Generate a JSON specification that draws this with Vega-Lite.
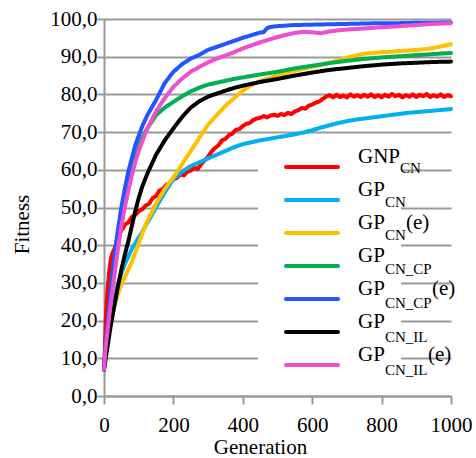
{
 "$schema": "https://vega.github.io/schema/vega-lite/v6.json",
 "width": 347, "height": 377,
 "autosize": "none",
 "padding": {"left": 104, "top": 19, "right": 25, "bottom": 62},
 "background": "white",
 "config": {"font": "Liberation Serif", "view": {"stroke": null}},
 "data": {"values": [
  {"gen":0,"series":"GNP_CN","fitness":7},{"gen":3,"series":"GNP_CN","fitness":14},{"gen":5,"series":"GNP_CN","fitness":20},{"gen":8,"series":"GNP_CN","fitness":25},{"gen":10,"series":"GNP_CN","fitness":28},{"gen":13,"series":"GNP_CN","fitness":31},{"gen":15,"series":"GNP_CN","fitness":33},{"gen":18,"series":"GNP_CN","fitness":35},{"gen":20,"series":"GNP_CN","fitness":36.5},{"gen":25,"series":"GNP_CN","fitness":38},{"gen":30,"series":"GNP_CN","fitness":39},{"gen":35,"series":"GNP_CN","fitness":40.5},{"gen":40,"series":"GNP_CN","fitness":42},{"gen":45,"series":"GNP_CN","fitness":43},{"gen":50,"series":"GNP_CN","fitness":44},{"gen":55,"series":"GNP_CN","fitness":44.5},{"gen":60,"series":"GNP_CN","fitness":45.5},{"gen":70,"series":"GNP_CN","fitness":46},{"gen":80,"series":"GNP_CN","fitness":47.5},{"gen":90,"series":"GNP_CN","fitness":48},{"gen":100,"series":"GNP_CN","fitness":49},{"gen":110,"series":"GNP_CN","fitness":49.5},{"gen":120,"series":"GNP_CN","fitness":50.5},{"gen":130,"series":"GNP_CN","fitness":51},{"gen":140,"series":"GNP_CN","fitness":52.5},{"gen":150,"series":"GNP_CN","fitness":53},{"gen":160,"series":"GNP_CN","fitness":54.5},{"gen":170,"series":"GNP_CN","fitness":55},{"gen":180,"series":"GNP_CN","fitness":56},{"gen":190,"series":"GNP_CN","fitness":56.5},{"gen":200,"series":"GNP_CN","fitness":57.5},{"gen":210,"series":"GNP_CN","fitness":57.8},{"gen":220,"series":"GNP_CN","fitness":58.8},{"gen":230,"series":"GNP_CN","fitness":58.5},{"gen":240,"series":"GNP_CN","fitness":59.5},{"gen":250,"series":"GNP_CN","fitness":59.8},{"gen":260,"series":"GNP_CN","fitness":60.5},{"gen":270,"series":"GNP_CN","fitness":60.2},{"gen":280,"series":"GNP_CN","fitness":61.5},{"gen":290,"series":"GNP_CN","fitness":62.5},{"gen":300,"series":"GNP_CN","fitness":63.5},{"gen":310,"series":"GNP_CN","fitness":64.8},{"gen":320,"series":"GNP_CN","fitness":65.8},{"gen":330,"series":"GNP_CN","fitness":66.5},{"gen":340,"series":"GNP_CN","fitness":67.8},{"gen":350,"series":"GNP_CN","fitness":68.2},{"gen":360,"series":"GNP_CN","fitness":69.2},{"gen":370,"series":"GNP_CN","fitness":69.6},{"gen":380,"series":"GNP_CN","fitness":70.6},{"gen":390,"series":"GNP_CN","fitness":70.8},{"gen":400,"series":"GNP_CN","fitness":71.6},{"gen":410,"series":"GNP_CN","fitness":72.2},{"gen":420,"series":"GNP_CN","fitness":72.4},{"gen":430,"series":"GNP_CN","fitness":73.2},{"gen":440,"series":"GNP_CN","fitness":73.6},{"gen":450,"series":"GNP_CN","fitness":73.8},{"gen":460,"series":"GNP_CN","fitness":74.2},{"gen":470,"series":"GNP_CN","fitness":73.9},{"gen":480,"series":"GNP_CN","fitness":74.4},{"gen":490,"series":"GNP_CN","fitness":74.6},{"gen":500,"series":"GNP_CN","fitness":74.3},{"gen":510,"series":"GNP_CN","fitness":74.8},{"gen":520,"series":"GNP_CN","fitness":74.5},{"gen":530,"series":"GNP_CN","fitness":75.1},{"gen":540,"series":"GNP_CN","fitness":74.8},{"gen":550,"series":"GNP_CN","fitness":75.5},{"gen":560,"series":"GNP_CN","fitness":75.8},{"gen":570,"series":"GNP_CN","fitness":76.4},{"gen":580,"series":"GNP_CN","fitness":76.2},{"gen":590,"series":"GNP_CN","fitness":77},{"gen":600,"series":"GNP_CN","fitness":77.3},{"gen":610,"series":"GNP_CN","fitness":77.8},{"gen":620,"series":"GNP_CN","fitness":78.1},{"gen":630,"series":"GNP_CN","fitness":78.8},{"gen":640,"series":"GNP_CN","fitness":79.4},{"gen":650,"series":"GNP_CN","fitness":79.8},{"gen":660,"series":"GNP_CN","fitness":79.2},{"gen":670,"series":"GNP_CN","fitness":79.9},{"gen":680,"series":"GNP_CN","fitness":79.3},{"gen":690,"series":"GNP_CN","fitness":79.7},{"gen":700,"series":"GNP_CN","fitness":79.2},{"gen":710,"series":"GNP_CN","fitness":80},{"gen":720,"series":"GNP_CN","fitness":79.4},{"gen":730,"series":"GNP_CN","fitness":79.8},{"gen":740,"series":"GNP_CN","fitness":79.3},{"gen":750,"series":"GNP_CN","fitness":79.9},{"gen":760,"series":"GNP_CN","fitness":79.4},{"gen":770,"series":"GNP_CN","fitness":80},{"gen":780,"series":"GNP_CN","fitness":79.3},{"gen":790,"series":"GNP_CN","fitness":79.8},{"gen":800,"series":"GNP_CN","fitness":79.2},{"gen":810,"series":"GNP_CN","fitness":79.9},{"gen":820,"series":"GNP_CN","fitness":79.4},{"gen":830,"series":"GNP_CN","fitness":80.1},{"gen":840,"series":"GNP_CN","fitness":79.5},{"gen":850,"series":"GNP_CN","fitness":79.9},{"gen":860,"series":"GNP_CN","fitness":79.2},{"gen":870,"series":"GNP_CN","fitness":79.8},{"gen":880,"series":"GNP_CN","fitness":79.4},{"gen":890,"series":"GNP_CN","fitness":80},{"gen":900,"series":"GNP_CN","fitness":79.3},{"gen":910,"series":"GNP_CN","fitness":79.9},{"gen":920,"series":"GNP_CN","fitness":79.5},{"gen":930,"series":"GNP_CN","fitness":80.1},{"gen":940,"series":"GNP_CN","fitness":79.3},{"gen":950,"series":"GNP_CN","fitness":79.8},{"gen":960,"series":"GNP_CN","fitness":79.4},{"gen":970,"series":"GNP_CN","fitness":80},{"gen":980,"series":"GNP_CN","fitness":79.3},{"gen":990,"series":"GNP_CN","fitness":79.8},{"gen":1000,"series":"GNP_CN","fitness":79.5},

  {"gen":0,"series":"GP_CN","fitness":7},{"gen":5,"series":"GP_CN","fitness":12},{"gen":10,"series":"GP_CN","fitness":16},{"gen":15,"series":"GP_CN","fitness":19},{"gen":20,"series":"GP_CN","fitness":22},{"gen":30,"series":"GP_CN","fitness":26},{"gen":40,"series":"GP_CN","fitness":29.5},{"gen":50,"series":"GP_CN","fitness":32.5},{"gen":60,"series":"GP_CN","fitness":35},{"gen":70,"series":"GP_CN","fitness":37},{"gen":80,"series":"GP_CN","fitness":39},{"gen":90,"series":"GP_CN","fitness":40.5},{"gen":100,"series":"GP_CN","fitness":42},{"gen":110,"series":"GP_CN","fitness":43.5},{"gen":125,"series":"GP_CN","fitness":46},{"gen":150,"series":"GP_CN","fitness":50},{"gen":175,"series":"GP_CN","fitness":54},{"gen":200,"series":"GP_CN","fitness":57.5},{"gen":225,"series":"GP_CN","fitness":59.5},{"gen":250,"series":"GP_CN","fitness":61},{"gen":275,"series":"GP_CN","fitness":62},{"gen":300,"series":"GP_CN","fitness":63},{"gen":325,"series":"GP_CN","fitness":64},{"gen":350,"series":"GP_CN","fitness":65},{"gen":375,"series":"GP_CN","fitness":66},{"gen":400,"series":"GP_CN","fitness":66.8},{"gen":425,"series":"GP_CN","fitness":67.3},{"gen":450,"series":"GP_CN","fitness":67.8},{"gen":475,"series":"GP_CN","fitness":68.2},{"gen":500,"series":"GP_CN","fitness":68.6},{"gen":525,"series":"GP_CN","fitness":69},{"gen":550,"series":"GP_CN","fitness":69.4},{"gen":575,"series":"GP_CN","fitness":69.9},{"gen":600,"series":"GP_CN","fitness":70.5},{"gen":625,"series":"GP_CN","fitness":71.2},{"gen":650,"series":"GP_CN","fitness":71.8},{"gen":675,"series":"GP_CN","fitness":72.4},{"gen":700,"series":"GP_CN","fitness":72.9},{"gen":725,"series":"GP_CN","fitness":73.3},{"gen":750,"series":"GP_CN","fitness":73.6},{"gen":775,"series":"GP_CN","fitness":73.9},{"gen":800,"series":"GP_CN","fitness":74.2},{"gen":825,"series":"GP_CN","fitness":74.5},{"gen":850,"series":"GP_CN","fitness":74.8},{"gen":875,"series":"GP_CN","fitness":75.1},{"gen":900,"series":"GP_CN","fitness":75.3},{"gen":925,"series":"GP_CN","fitness":75.5},{"gen":950,"series":"GP_CN","fitness":75.7},{"gen":975,"series":"GP_CN","fitness":75.9},{"gen":1000,"series":"GP_CN","fitness":76.1},

  {"gen":0,"series":"GP_CN(e)","fitness":7},{"gen":5,"series":"GP_CN(e)","fitness":11},{"gen":10,"series":"GP_CN(e)","fitness":14},{"gen":15,"series":"GP_CN(e)","fitness":17},{"gen":20,"series":"GP_CN(e)","fitness":20},{"gen":30,"series":"GP_CN(e)","fitness":24},{"gen":40,"series":"GP_CN(e)","fitness":27},{"gen":50,"series":"GP_CN(e)","fitness":29.5},{"gen":60,"series":"GP_CN(e)","fitness":31.5},{"gen":70,"series":"GP_CN(e)","fitness":33.5},{"gen":80,"series":"GP_CN(e)","fitness":35.5},{"gen":90,"series":"GP_CN(e)","fitness":38},{"gen":100,"series":"GP_CN(e)","fitness":40.5},{"gen":110,"series":"GP_CN(e)","fitness":43},{"gen":125,"series":"GP_CN(e)","fitness":46.5},{"gen":150,"series":"GP_CN(e)","fitness":51},{"gen":175,"series":"GP_CN(e)","fitness":55},{"gen":200,"series":"GP_CN(e)","fitness":58},{"gen":225,"series":"GP_CN(e)","fitness":61.5},{"gen":250,"series":"GP_CN(e)","fitness":65},{"gen":275,"series":"GP_CN(e)","fitness":68.5},{"gen":300,"series":"GP_CN(e)","fitness":72},{"gen":325,"series":"GP_CN(e)","fitness":74.5},{"gen":350,"series":"GP_CN(e)","fitness":77},{"gen":375,"series":"GP_CN(e)","fitness":79},{"gen":400,"series":"GP_CN(e)","fitness":81},{"gen":425,"series":"GP_CN(e)","fitness":82.5},{"gen":450,"series":"GP_CN(e)","fitness":83.5},{"gen":475,"series":"GP_CN(e)","fitness":84.3},{"gen":500,"series":"GP_CN(e)","fitness":85},{"gen":525,"series":"GP_CN(e)","fitness":85.7},{"gen":550,"series":"GP_CN(e)","fitness":86.3},{"gen":575,"series":"GP_CN(e)","fitness":86.8},{"gen":600,"series":"GP_CN(e)","fitness":87.3},{"gen":625,"series":"GP_CN(e)","fitness":87.8},{"gen":650,"series":"GP_CN(e)","fitness":88.4},{"gen":675,"series":"GP_CN(e)","fitness":89},{"gen":700,"series":"GP_CN(e)","fitness":89.7},{"gen":725,"series":"GP_CN(e)","fitness":90.3},{"gen":750,"series":"GP_CN(e)","fitness":90.8},{"gen":775,"series":"GP_CN(e)","fitness":91},{"gen":800,"series":"GP_CN(e)","fitness":91.2},{"gen":825,"series":"GP_CN(e)","fitness":91.3},{"gen":850,"series":"GP_CN(e)","fitness":91.5},{"gen":875,"series":"GP_CN(e)","fitness":91.6},{"gen":900,"series":"GP_CN(e)","fitness":91.8},{"gen":925,"series":"GP_CN(e)","fitness":92},{"gen":950,"series":"GP_CN(e)","fitness":92.3},{"gen":975,"series":"GP_CN(e)","fitness":92.8},{"gen":1000,"series":"GP_CN(e)","fitness":93.3},

  {"gen":0,"series":"GP_CN_CP","fitness":7},{"gen":5,"series":"GP_CN_CP","fitness":13},{"gen":10,"series":"GP_CN_CP","fitness":18},{"gen":15,"series":"GP_CN_CP","fitness":22},{"gen":20,"series":"GP_CN_CP","fitness":26},{"gen":30,"series":"GP_CN_CP","fitness":33},{"gen":40,"series":"GP_CN_CP","fitness":40},{"gen":50,"series":"GP_CN_CP","fitness":46},{"gen":60,"series":"GP_CN_CP","fitness":51},{"gen":70,"series":"GP_CN_CP","fitness":55.5},{"gen":80,"series":"GP_CN_CP","fitness":59.5},{"gen":90,"series":"GP_CN_CP","fitness":63},{"gen":100,"series":"GP_CN_CP","fitness":66},{"gen":110,"series":"GP_CN_CP","fitness":68.5},{"gen":125,"series":"GP_CN_CP","fitness":71},{"gen":150,"series":"GP_CN_CP","fitness":74.5},{"gen":175,"series":"GP_CN_CP","fitness":76.5},{"gen":200,"series":"GP_CN_CP","fitness":78},{"gen":225,"series":"GP_CN_CP","fitness":79.5},{"gen":250,"series":"GP_CN_CP","fitness":80.8},{"gen":275,"series":"GP_CN_CP","fitness":81.8},{"gen":300,"series":"GP_CN_CP","fitness":82.6},{"gen":325,"series":"GP_CN_CP","fitness":83.1},{"gen":350,"series":"GP_CN_CP","fitness":83.6},{"gen":375,"series":"GP_CN_CP","fitness":84.1},{"gen":400,"series":"GP_CN_CP","fitness":84.5},{"gen":450,"series":"GP_CN_CP","fitness":85.3},{"gen":500,"series":"GP_CN_CP","fitness":86},{"gen":550,"series":"GP_CN_CP","fitness":86.9},{"gen":600,"series":"GP_CN_CP","fitness":87.6},{"gen":650,"series":"GP_CN_CP","fitness":88.3},{"gen":700,"series":"GP_CN_CP","fitness":88.9},{"gen":750,"series":"GP_CN_CP","fitness":89.4},{"gen":800,"series":"GP_CN_CP","fitness":89.8},{"gen":850,"series":"GP_CN_CP","fitness":90.1},{"gen":900,"series":"GP_CN_CP","fitness":90.4},{"gen":950,"series":"GP_CN_CP","fitness":90.7},{"gen":1000,"series":"GP_CN_CP","fitness":91},

  {"gen":0,"series":"GP_CN_CP(e)","fitness":7},{"gen":5,"series":"GP_CN_CP(e)","fitness":14},{"gen":10,"series":"GP_CN_CP(e)","fitness":19},{"gen":15,"series":"GP_CN_CP(e)","fitness":24},{"gen":20,"series":"GP_CN_CP(e)","fitness":29},{"gen":30,"series":"GP_CN_CP(e)","fitness":37},{"gen":40,"series":"GP_CN_CP(e)","fitness":44},{"gen":50,"series":"GP_CN_CP(e)","fitness":50},{"gen":60,"series":"GP_CN_CP(e)","fitness":55},{"gen":70,"series":"GP_CN_CP(e)","fitness":59.5},{"gen":80,"series":"GP_CN_CP(e)","fitness":63},{"gen":90,"series":"GP_CN_CP(e)","fitness":66.5},{"gen":100,"series":"GP_CN_CP(e)","fitness":69},{"gen":110,"series":"GP_CN_CP(e)","fitness":71.5},{"gen":125,"series":"GP_CN_CP(e)","fitness":74.5},{"gen":150,"series":"GP_CN_CP(e)","fitness":78.5},{"gen":175,"series":"GP_CN_CP(e)","fitness":83},{"gen":200,"series":"GP_CN_CP(e)","fitness":86},{"gen":225,"series":"GP_CN_CP(e)","fitness":88},{"gen":250,"series":"GP_CN_CP(e)","fitness":89.5},{"gen":275,"series":"GP_CN_CP(e)","fitness":90.5},{"gen":300,"series":"GP_CN_CP(e)","fitness":91.8},{"gen":325,"series":"GP_CN_CP(e)","fitness":92.6},{"gen":350,"series":"GP_CN_CP(e)","fitness":93.4},{"gen":375,"series":"GP_CN_CP(e)","fitness":94.2},{"gen":400,"series":"GP_CN_CP(e)","fitness":95},{"gen":425,"series":"GP_CN_CP(e)","fitness":95.7},{"gen":450,"series":"GP_CN_CP(e)","fitness":96.4},{"gen":460,"series":"GP_CN_CP(e)","fitness":96.5},{"gen":470,"series":"GP_CN_CP(e)","fitness":97.6},{"gen":480,"series":"GP_CN_CP(e)","fitness":97.9},{"gen":500,"series":"GP_CN_CP(e)","fitness":98.1},{"gen":550,"series":"GP_CN_CP(e)","fitness":98.4},{"gen":600,"series":"GP_CN_CP(e)","fitness":98.5},{"gen":650,"series":"GP_CN_CP(e)","fitness":98.6},{"gen":700,"series":"GP_CN_CP(e)","fitness":98.7},{"gen":750,"series":"GP_CN_CP(e)","fitness":98.8},{"gen":800,"series":"GP_CN_CP(e)","fitness":98.9},{"gen":850,"series":"GP_CN_CP(e)","fitness":98.9},{"gen":900,"series":"GP_CN_CP(e)","fitness":99},{"gen":950,"series":"GP_CN_CP(e)","fitness":99},{"gen":1000,"series":"GP_CN_CP(e)","fitness":99.1},

  {"gen":0,"series":"GP_CN_IL","fitness":7},{"gen":5,"series":"GP_CN_IL","fitness":10},{"gen":10,"series":"GP_CN_IL","fitness":13},{"gen":15,"series":"GP_CN_IL","fitness":16},{"gen":20,"series":"GP_CN_IL","fitness":19},{"gen":30,"series":"GP_CN_IL","fitness":24},{"gen":40,"series":"GP_CN_IL","fitness":29},{"gen":50,"series":"GP_CN_IL","fitness":33.5},{"gen":60,"series":"GP_CN_IL","fitness":37.5},{"gen":70,"series":"GP_CN_IL","fitness":41},{"gen":80,"series":"GP_CN_IL","fitness":45},{"gen":90,"series":"GP_CN_IL","fitness":49},{"gen":100,"series":"GP_CN_IL","fitness":52.5},{"gen":110,"series":"GP_CN_IL","fitness":55.5},{"gen":125,"series":"GP_CN_IL","fitness":59},{"gen":150,"series":"GP_CN_IL","fitness":64},{"gen":175,"series":"GP_CN_IL","fitness":67.8},{"gen":200,"series":"GP_CN_IL","fitness":71},{"gen":225,"series":"GP_CN_IL","fitness":74},{"gen":250,"series":"GP_CN_IL","fitness":76.5},{"gen":275,"series":"GP_CN_IL","fitness":78.2},{"gen":300,"series":"GP_CN_IL","fitness":79.4},{"gen":325,"series":"GP_CN_IL","fitness":80.2},{"gen":350,"series":"GP_CN_IL","fitness":81},{"gen":375,"series":"GP_CN_IL","fitness":81.7},{"gen":400,"series":"GP_CN_IL","fitness":82.3},{"gen":450,"series":"GP_CN_IL","fitness":83.3},{"gen":500,"series":"GP_CN_IL","fitness":84.1},{"gen":550,"series":"GP_CN_IL","fitness":85},{"gen":600,"series":"GP_CN_IL","fitness":85.8},{"gen":650,"series":"GP_CN_IL","fitness":86.5},{"gen":700,"series":"GP_CN_IL","fitness":87},{"gen":750,"series":"GP_CN_IL","fitness":87.5},{"gen":800,"series":"GP_CN_IL","fitness":87.9},{"gen":850,"series":"GP_CN_IL","fitness":88.2},{"gen":900,"series":"GP_CN_IL","fitness":88.4},{"gen":950,"series":"GP_CN_IL","fitness":88.6},{"gen":1000,"series":"GP_CN_IL","fitness":88.7},

  {"gen":0,"series":"GP_CN_IL(e)","fitness":7},{"gen":5,"series":"GP_CN_IL(e)","fitness":13},{"gen":10,"series":"GP_CN_IL(e)","fitness":17},{"gen":15,"series":"GP_CN_IL(e)","fitness":21},{"gen":20,"series":"GP_CN_IL(e)","fitness":25},{"gen":30,"series":"GP_CN_IL(e)","fitness":32},{"gen":40,"series":"GP_CN_IL(e)","fitness":39},{"gen":50,"series":"GP_CN_IL(e)","fitness":45},{"gen":60,"series":"GP_CN_IL(e)","fitness":50},{"gen":70,"series":"GP_CN_IL(e)","fitness":54.5},{"gen":80,"series":"GP_CN_IL(e)","fitness":58.5},{"gen":90,"series":"GP_CN_IL(e)","fitness":62},{"gen":100,"series":"GP_CN_IL(e)","fitness":65},{"gen":110,"series":"GP_CN_IL(e)","fitness":67.5},{"gen":125,"series":"GP_CN_IL(e)","fitness":71},{"gen":150,"series":"GP_CN_IL(e)","fitness":75.5},{"gen":175,"series":"GP_CN_IL(e)","fitness":79},{"gen":200,"series":"GP_CN_IL(e)","fitness":82},{"gen":225,"series":"GP_CN_IL(e)","fitness":84.2},{"gen":250,"series":"GP_CN_IL(e)","fitness":86},{"gen":275,"series":"GP_CN_IL(e)","fitness":87.3},{"gen":300,"series":"GP_CN_IL(e)","fitness":88.5},{"gen":325,"series":"GP_CN_IL(e)","fitness":89.5},{"gen":350,"series":"GP_CN_IL(e)","fitness":90.3},{"gen":375,"series":"GP_CN_IL(e)","fitness":91.2},{"gen":400,"series":"GP_CN_IL(e)","fitness":92.2},{"gen":425,"series":"GP_CN_IL(e)","fitness":93},{"gen":450,"series":"GP_CN_IL(e)","fitness":93.8},{"gen":475,"series":"GP_CN_IL(e)","fitness":94.5},{"gen":500,"series":"GP_CN_IL(e)","fitness":95.2},{"gen":525,"series":"GP_CN_IL(e)","fitness":95.8},{"gen":550,"series":"GP_CN_IL(e)","fitness":96.3},{"gen":575,"series":"GP_CN_IL(e)","fitness":96.6},{"gen":600,"series":"GP_CN_IL(e)","fitness":96.5},{"gen":625,"series":"GP_CN_IL(e)","fitness":96.2},{"gen":650,"series":"GP_CN_IL(e)","fitness":96.7},{"gen":675,"series":"GP_CN_IL(e)","fitness":97},{"gen":700,"series":"GP_CN_IL(e)","fitness":97.2},{"gen":750,"series":"GP_CN_IL(e)","fitness":97.5},{"gen":800,"series":"GP_CN_IL(e)","fitness":97.8},{"gen":850,"series":"GP_CN_IL(e)","fitness":98.1},{"gen":900,"series":"GP_CN_IL(e)","fitness":98.4},{"gen":950,"series":"GP_CN_IL(e)","fitness":98.7},{"gen":1000,"series":"GP_CN_IL(e)","fitness":98.9}
 ]},
 "mark": {"type": "line", "strokeCap": "round", "strokeJoin": "round"},
 "encoding": {
  "x": {"field": "gen", "type": "quantitative",
   "scale": {"domain": [0, 1000], "nice": false},
   "axis": {"values": [0, 200, 400, 600, 800, 1000], "format": "d", "grid": false,
    "title": "Generation", "titleFont": "Liberation Serif", "titleFontSize": 21, "titleFontWeight": "normal", "titleColor": "black",
    "titleX": 156, "titleY": 57, "titleBaseline": "alphabetic", "titleAlign": "center",
    "labelFont": "Liberation Serif", "labelFontSize": 21, "labelColor": "black", "labelPadding": 10, "labelFlush": false, "labelOverlap": false,
    "tickSize": 8, "tickColor": "#999999", "tickWidth": 2, "domainColor": "#999999", "domainWidth": 2}},
  "y": {"field": "fitness", "type": "quantitative",
   "scale": {"domain": [0, 100], "nice": false},
   "axis": {"values": [0, 10, 20, 30, 40, 50, 60, 70, 80, 90, 100],
    "labelExpr": "replace(format(datum.value, '.1f'), '.', ',')",
    "title": "Fitness", "titleFont": "Liberation Serif", "titleFontSize": 21, "titleFontWeight": "normal", "titleColor": "black",
    "titleX": -76, "titleY": 205, "titleBaseline": "alphabetic", "titleAlign": "center", "titleAngle": -90,
    "labelFont": "Liberation Serif", "labelFontSize": 21, "labelColor": "black", "labelPadding": 0, "labelAlign": "right", "labelFlush": false, "labelOverlap": false,
    "encode": {"labels": {"update": {"dx": {"value": -20}}}},
    "grid": true, "gridColor": "#999999", "gridWidth": 2,
    "tickSize": 7, "tickColor": "#999999", "tickWidth": 2, "domainColor": "#999999", "domainWidth": 2}},
  "color": {"field": "series", "type": "nominal",
   "scale": {"domain": ["GNP_CN", "GP_CN", "GP_CN(e)", "GP_CN_CP", "GP_CN_CP(e)", "GP_CN_IL", "GP_CN_IL(e)"],
     "range": ["#ff0000", "#00b0f0", "#ffc000", "#00b050", "#2255ff", "#000000", "#ee4fcf"]},
   "legend": {"title": null, "orient": "none", "legendX": 154, "legendY": 137.5, "padding": 0, "fillColor": "white", "zindex": 1,
     "symbolType": "M0,-2M-3.0588,0L3.0588,0M0,1.0235", "symbolSize": 289, "symbolStrokeWidth": 4, "symbolOffset": 43.5,
     "labelOffset": 35.5, "rowPadding": 0,
     "labelFont": "Liberation Serif", "labelFontSize": 21, "labelColor": "black", "labelBaseline": "alphabetic", "labelLimit": 300,
     "labelExpr": "(datum.value == 'GNP_CN' ? 'GNP' : 'GP') + '\u00a0\u00a0\u00a0\u00a0\u00a0\u00a0\u00a0\u00a0\u00a0\u00a0\u00a0\u00a0\u00a0\u00a0'",
     "encode": {"symbols": {"update": {"strokeCap": {"value": "round"}, "strokeJoin": {"value": "round"}}},
                "labels": {"update": {"dy": {"value": -4}}}}}},
  "strokeDash": {"field": "series", "type": "nominal",
   "scale": {"range": [[1, 0], [1, 0], [1, 0], [1, 0], [1, 0], [1, 0], [1, 0]]},
   "legend": {"title": null, "orient": "none", "legendX": 154, "legendY": 137.5, "padding": 0, "zindex": 2,
     "symbolType": "M0,-2M-3.0588,0L3.0588,0M0,1.0235", "symbolSize": 289, "symbolStrokeWidth": 4, "symbolOffset": 43.5,
     "labelOffset": 35.5, "rowPadding": 2.7,
     "labelFont": "Liberation Serif", "labelFontSize": 15, "labelColor": "black", "labelBaseline": "alphabetic",
     "labelExpr": "indexof(datum.value, '_CP') >= 0 ? 'CN_CP' : (indexof(datum.value, '_IL') >= 0 ? 'CN_IL' : 'CN')",
     "encode": {"symbols": {"update": {"stroke": {"value": "transparent"}, "strokeJoin": {"value": "round"}}},
                "labels": {"update": {"dy": {"value": 6}, "dx": {"signal": "datum.value == 'GNP_CN' ? 42 : 27"}}}}}},
  "strokeWidth": {"field": "series", "type": "nominal",
   "scale": {"domain": {"unionWith": ["GNP_CN", "GP_CN", "GP_CN(e)", "GP_CN_CP", "GP_CN_CP(e)", "GP_CN_IL", "GP_CN_IL(e)"]}, "range": [4, 4]},
   "legend": {"title": null, "orient": "none", "legendX": 154, "legendY": 137.5, "padding": 0, "zindex": 3,
     "symbolType": "M0,-2M-3.0588,0L3.0588,0M0,1.0235", "symbolSize": 289, "symbolStrokeWidth": 4, "symbolOffset": 43.5,
     "labelOffset": 35.5, "rowPadding": 0,
     "labelFont": "Liberation Serif", "labelFontSize": 21, "labelColor": "black", "labelBaseline": "alphabetic",
     "labelExpr": "indexof(datum.value, '(e)') >= 0 ? '(e)' : ''",
     "encode": {"symbols": {"update": {"stroke": {"value": "transparent"}, "strokeJoin": {"value": "round"}}},
                "labels": {"update": {"dy": {"value": -4}, "dx": {"signal": "datum.value == 'GP_CN(e)' ? 48 : (datum.value == 'GP_CN_CP(e)' ? 74 : 70)"}}}}}}
 }
}
